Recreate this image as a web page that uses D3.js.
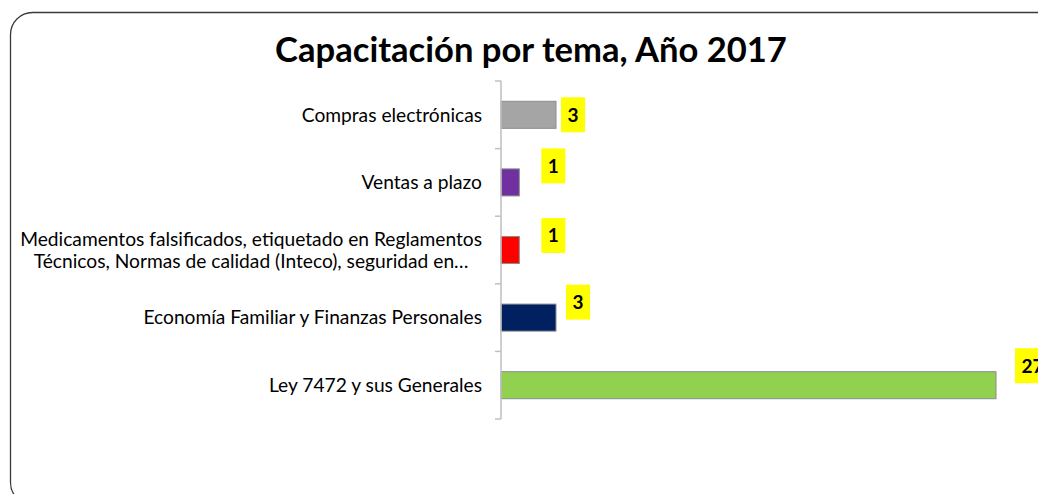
<!DOCTYPE html>
<html>
<head>
<meta charset="utf-8">
<script src="https://cdn.jsdelivr.net/npm/d3@7"></script>
<style>
  html, body { margin: 0; padding: 0; background: #fff; }
  svg { display: block; }
</style>
</head>
<body>
<svg id="chart" width="1038" height="494"></svg>
<script>
// ---- data ----
const title = "Capacitación por tema, Año 2017";
const categories = [
  ["Compras electrónicas"],
  ["Ventas a plazo"],
  ["Medicamentos falsificados, etiquetado en Reglamentos", "Técnicos, Normas de calidad (Inteco), seguridad en…"],
  ["Economía Familiar y Finanzas Personales"],
  ["Ley 7472 y sus Generales"]
];
const values = [3, 1, 1, 3, 27];
const colors = ["#A5A5A5", "#7030A0", "#FF0000", "#002060", "#92D050"];
const xDomainMax = 30;

// label placement offsets (Excel manually placed labels): [dx from bar end, dy from bar centre]
const labelOffsets = [[5, 0], [22, -16.5], [22, -14.5], [10, -15.5], [19, -19.5]];

(function () {
const font = "Lato, 'Open Sans', sans-serif";
const svg = d3.select("#chart");

// frame
svg.append("rect")
  .attr("x", 10.5).attr("y", 12.5)
  .attr("width", 1050).attr("height", 492)
  .attr("rx", 22).attr("ry", 22)
  .attr("fill", "#fff").attr("stroke", "#3a3a3a").attr("stroke-width", 1.3);

// title (fit to measured width)
const titleEl = svg.append("text")
  .attr("x", 531).attr("y", 62)
  .attr("text-anchor", "middle")
  .attr("font-family", font).attr("font-weight", "bold")
  .attr("font-size", 29).attr("fill", "#000")
  .text(title);
{
  const w = titleEl.node().getComputedTextLength();
  titleEl.attr("font-size", 29 * 512 / w);
}

const idx = d3.range(categories.length);
const y = d3.scaleBand().domain(idx).range([81, 419]).paddingInner(0.6).paddingOuter(0.3);
const x = d3.scaleLinear().domain([0, xDomainMax]).range([501, 1051]);

// bars
svg.append("g").selectAll("rect")
  .data(idx)
  .join("rect")
  .attr("x", x(0))
  .attr("y", i => y(i))
  .attr("width", i => x(values[i]) - x(0))
  .attr("height", y.bandwidth())
  .attr("fill", i => colors[i])
  .attr("stroke", "#8c8c8c").attr("stroke-width", 1);

// axis line and ticks at band boundaries
const axisG = svg.append("g");
const step = y.step();
const boundaries = d3.range(categories.length + 1).map(k => y.range()[0] + k * step);
axisG.append("line")
  .attr("x1", x(0)).attr("x2", x(0))
  .attr("y1", boundaries[0]).attr("y2", boundaries[boundaries.length - 1])
  .attr("stroke", "#BFBFBF").attr("stroke-width", 1.5);
axisG.selectAll("line.tick").data(boundaries).join("line")
  .attr("class", "tick")
  .attr("x1", x(0) - 6).attr("x2", x(0))
  .attr("y1", d => d).attr("y2", d => d)
  .attr("stroke", "#BFBFBF").attr("stroke-width", 1.5);

// category labels
const labelRight = 482;
const baseSize = 15;
const catG = svg.append("g");
const catTexts = [];
idx.forEach(i => {
  const lines = categories[i];
  const g = catG.append("g");
  const cy = y(i) + y.bandwidth() / 2;
  const lh = 22;
  lines.forEach((ln, j) => {
    const t = g.append("text")
      .attr("font-family", font).attr("font-size", baseSize).attr("fill", "#000")
      .attr("y", cy + (j - (lines.length - 1) / 2) * lh)
      .attr("dy", "0.35em")
      .text(ln);
    catTexts.push({ t, i, lines });
  });
});
// fit font size using the longest line (reference width 462 px)
{
  const ref = catTexts.find(o => o.t.text() === categories[2][0]);
  const w = ref.t.node().getComputedTextLength();
  const size = baseSize * 462 / w;
  catTexts.forEach(o => o.t.attr("font-size", size));
  idx.forEach(i => {
    const group = catTexts.filter(o => o.i === i);
    if (group.length === 1) {
      group[0].t.attr("text-anchor", "end").attr("x", labelRight);
    } else {
      const maxW = d3.max(group, o => o.t.node().getComputedTextLength());
      group.forEach(o => o.t.attr("text-anchor", "middle").attr("x", labelRight - maxW / 2));
    }
  });
}

// value labels with yellow boxes
const lblG = svg.append("g");
idx.forEach(i => {
  const cx = x(values[i]) + labelOffsets[i][0];
  const cy = y(i) + y.bandwidth() / 2 + labelOffsets[i][1];
  const g = lblG.append("g");
  const t = g.append("text")
    .attr("font-family", font).attr("font-weight", "bold").attr("font-size", 19)
    .attr("fill", "#000")
    .attr("x", cx + 6.5).attr("y", cy).attr("dy", "0.36em")
    .text(values[i]);
  const w = t.node().getComputedTextLength();
  g.insert("rect", "text")
    .attr("x", cx).attr("y", cy - 17.5)
    .attr("width", w + 13).attr("height", 35)
    .attr("fill", "#FFFF00");
});
})();
</script>
</body>
</html>
